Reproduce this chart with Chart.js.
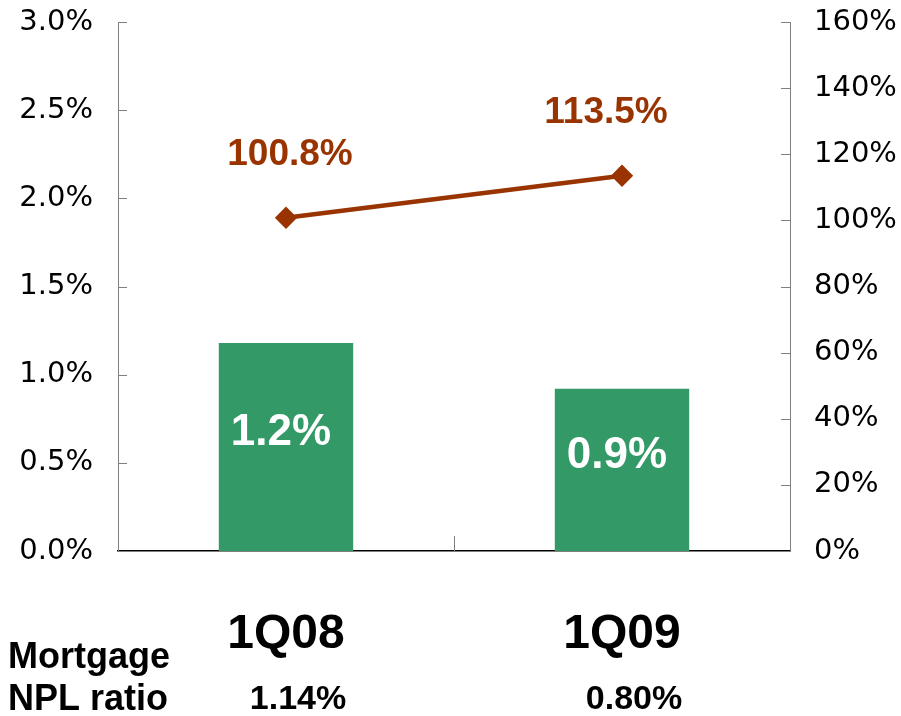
<!DOCTYPE html>
<html>
<head>
<meta charset="utf-8">
<script src="https://cdn.jsdelivr.net/npm/chart.js@4"></script>
<style>
  html, body { margin: 0; padding: 0; background: #fff; }
  #wrap { width: 901px; height: 716px; position: relative; }
</style>
</head>
<body>
<div id="wrap"><canvas id="nplChart"></canvas></div>
<script>
// Mortgage NPL ratio vs. coverage, 1Q08 / 1Q09
const quarters     = ['1Q08', '1Q09'];
const nplBars      = [1.18, 0.92];        // left axis, %
const barLabels    = ['1.2%', '0.9%'];
const coverage     = [100.8, 113.5];      // right axis, %
const nplRatioText = ['1.14%', '0.80%'];
const leftTicks    = [0, 0.5, 1, 1.5, 2, 2.5, 3];
const rightTicks   = [0, 20, 40, 60, 80, 100, 120, 140, 160];

const green = '#339966';
const brown = '#993300';
// small lineHeight so the top label does not push the plot down
const tickFont = { family: 'DejaVu Sans', size: 29, lineHeight: 0.5 };
const arial = '"Liberation Sans", Arial, sans-serif';

// inward tick marks, value labels and the NPL row under the axis
const extras = {
  id: 'extras',
  afterDatasetsDraw(chart) {
    const { ctx, chartArea: a, scales } = chart;
    ctx.save();
    ctx.lineWidth = 1;
    ctx.strokeStyle = '#808080';
    leftTicks.forEach(v => {
      const y = Math.round(scales.y.getPixelForValue(v)) + 0.5;
      ctx.beginPath(); ctx.moveTo(a.left, y); ctx.lineTo(a.left + 9, y); ctx.stroke();
    });
    rightTicks.forEach(v => {
      const y = Math.round(scales.y1.getPixelForValue(v)) + 0.5;
      ctx.beginPath(); ctx.moveTo(a.right, y); ctx.lineTo(a.right - 9, y); ctx.stroke();
    });
    // category boundary tick
    const xb = Math.round((scales.x.getPixelForValue(0) + scales.x.getPixelForValue(1)) / 2) + 0.5;
    ctx.beginPath(); ctx.moveTo(xb, a.bottom); ctx.lineTo(xb, a.bottom - 15); ctx.stroke();

    ctx.textAlign = 'center';
    ctx.textBaseline = 'middle';
    const bars = chart.getDatasetMeta(0).data;
    ctx.fillStyle = '#fff';
    ctx.font = 'bold 44px ' + arial;
    bars.forEach((b, i) => {
      ctx.fillText(barLabels[i], b.x - 5, (b.y + b.base) / 2 - 14);
    });
    const pts = chart.getDatasetMeta(1).data;
    ctx.fillStyle = brown;
    ctx.font = 'bold 37px ' + arial;
    pts.forEach((p, i) => {
      ctx.fillText(coverage[i].toFixed(1) + '%', p.x + (i ? -16 : 4), p.y - 63);
    });

    ctx.fillStyle = '#000';
    ctx.font = 'bold 36px ' + arial;
    ctx.textAlign = 'left';
    ctx.textBaseline = 'alphabetic';
    ctx.fillText('Mortgage', 8, 668);
    ctx.fillText('NPL ratio', 8, 710);
    ctx.textAlign = 'center';
    ctx.font = 'bold 34px ' + arial;
    nplRatioText.forEach((t, i) => {
      ctx.fillText(t, scales.x.getPixelForValue(i) + 12, 709);
    });
    ctx.restore();
  }
};

new Chart(document.getElementById('nplChart'), {
  data: {
    labels: quarters,
    datasets: [
      {
        type: 'bar',
        data: nplBars,
        yAxisID: 'y',
        backgroundColor: green,
        borderWidth: 0,
        categoryPercentage: 1,
        barPercentage: 0.4,
        order: 2,
      },
      {
        type: 'line',
        data: coverage,
        yAxisID: 'y1',
        borderColor: brown,
        borderWidth: 4.5,
        pointStyle: 'rectRot',
        pointRadius: 8,
        pointBackgroundColor: brown,
        pointBorderColor: brown,
        order: 1,
      },
    ],
  },
  options: {
    responsive: true,
    maintainAspectRatio: false,
    animation: false,
    layout: { padding: { top: 22, left: 0, right: 0, bottom: 0 } },
    plugins: { legend: { display: false }, tooltip: { enabled: false } },
    scales: {
      x: {
        offset: true,
        grid: { display: false },
        border: { display: true, color: '#000', width: 1.5 },
        ticks: {
          color: '#000',
          padding: 47,
          font: { family: arial, size: 48, weight: 'bold' },
        },
        afterFit: s => { s.height = 165; s.paddingLeft = 0; s.paddingRight = 0; },
      },
      y: {
        position: 'left',
        min: 0, max: 3,
        afterBuildTicks: s => { s.ticks = leftTicks.map(v => ({ value: v })); },
        grid: { display: false },
        border: { display: true, color: '#808080' },
        ticks: { color: '#000', padding: 17, font: tickFont, callback: v => v.toFixed(1) + '%' },
        afterFit: s => { s.width = 118; s.paddingTop = 0; s.paddingBottom = 0; },
      },
      y1: {
        position: 'right',
        min: 0, max: 160,
        afterBuildTicks: s => { s.ticks = rightTicks.map(v => ({ value: v })); },
        grid: { display: false },
        border: { display: true, color: '#808080' },
        ticks: { color: '#000', padding: 16, font: tickFont, callback: v => v + '%' },
        afterFit: s => { s.width = 111; s.paddingTop = 0; s.paddingBottom = 0; },
      },
    },
  },
  plugins: [extras],
});
</script>
</body>
</html>
